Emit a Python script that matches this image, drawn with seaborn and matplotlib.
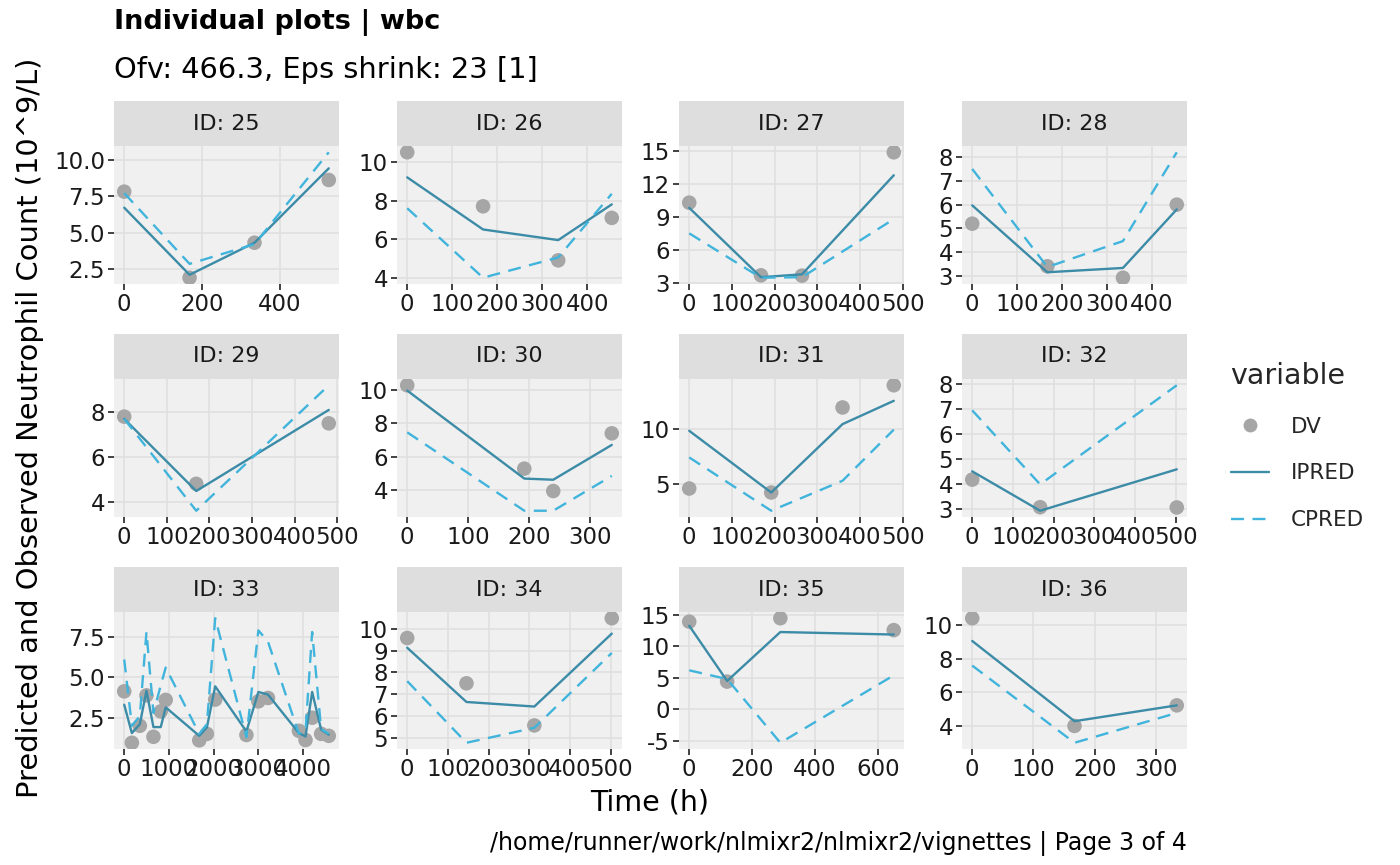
import numpy as np
import pandas as pd
import matplotlib
matplotlib.use("Agg")
import matplotlib.pyplot as plt
import seaborn as sns
from matplotlib.lines import Line2D

# ---------------- data ----------------
IDS = [25, 26, 27, 28, 29, 30, 31, 32, 33, 34, 35, 36]

TIME_25 = [0, 168, 335, 526]
DV_25 = [7.8, 1.9, 4.3, 8.6]
IPRED_25 = [6.7, 2.1, 4.3, 9.4]
CPRED_25 = [7.7, 2.85, 4.2, 10.5]

TIME_26 = [0, 168.5, 335.5, 454.5]
DV_26 = [10.5, 7.7, 4.9, 7.1]
IPRED_26 = [9.2, 6.5, 5.95, 7.8]
CPRED_26 = [7.6, 4.0, 5.05, 8.35]

TIME_27 = [0, 168, 264, 479]
DV_27 = [10.3, 3.67, 3.64, 14.9]
IPRED_27 = [9.83, 3.5, 3.76, 12.8]
CPRED_27 = [7.5, 3.45, 3.5, 8.8]

TIME_28 = [0, 167.5, 336, 456]
DV_28 = [5.2, 3.41, 2.93, 6.0]
IPRED_28 = [5.97, 3.16, 3.34, 5.8]
CPRED_28 = [7.5, 3.38, 4.47, 8.2]

TIME_29 = [0, 169, 480]
DV_29 = [7.8, 4.8, 7.5]
IPRED_29 = [7.7, 4.48, 8.1]
CPRED_29 = [7.7, 3.6, 9.2]

TIME_30 = [0, 192, 239.5, 335.5]
DV_30 = [10.3, 5.27, 3.92, 7.4]
IPRED_30 = [9.98, 4.67, 4.6, 6.7]
CPRED_30 = [7.46, 2.73, 2.73, 4.83]

TIME_31 = [0, 192, 359, 479]
DV_31 = [4.6, 4.24, 11.9, 13.9]
IPRED_31 = [9.8, 4.24, 10.4, 12.5]
CPRED_31 = [7.4, 2.6, 5.3, 9.9]

TIME_32 = [0, 167, 503]
DV_32 = [4.19, 3.09, 3.08]
IPRED_32 = [4.52, 2.95, 4.6]
CPRED_32 = [6.95, 4.0, 7.95]

TIME_33 = [0, 171, 349, 498, 654, 818, 929, 1680, 1851, 2037, 2736, 3004,
           3219, 3911, 4059, 4208, 4409, 4580]
DV_33 = [4.13, 0.95, 2.0, 3.88, 1.32, 2.89, 3.6, 1.1, 1.5, 3.62, 1.43, 3.51,
         3.72, 1.69, 1.12, 2.5, 1.5, 1.38]
IPRED_33 = [3.3, 1.55, 2.1, 4.17, 1.92, 1.92, 3.14, 1.38, 1.9, 4.44, 1.65, 4.09,
            3.93, 1.55, 1.34, 4.09, 1.76, 1.45]
CPRED_33 = [6.1, 2.0, 2.6, 7.8, 2.8, 4.5, 5.6, 1.5, 2.1, 8.65, 1.3, 7.9,
            7.2, 1.5, 1.7, 7.8, 1.8, 1.5]

TIME_34 = [0, 145.7, 312.6, 503]
DV_34 = [9.59, 7.5, 5.56, 10.5]
IPRED_34 = [9.14, 6.64, 6.43, 9.79]
CPRED_34 = [7.6, 4.76, 5.45, 8.9]

TIME_35 = [0, 120.6, 290, 651]
DV_35 = [13.95, 4.4, 14.5, 12.6]
IPRED_35 = [13.3, 4.5, 12.3, 11.9]
CPRED_35 = [6.2, 4.8, -5.35, 5.4]

TIME_36 = [0, 167, 334]
DV_36 = [10.39, 4.0, 5.22]
IPRED_36 = [9.04, 4.28, 5.22]
CPRED_36 = [7.58, 3.0, 4.77]

X_BREAKS = {25: [0, 200, 400], 26: [0, 100, 200, 300, 400],
            27: [0, 100, 200, 300, 400, 500], 28: [0, 100, 200, 300, 400],
            29: [0, 100, 200, 300, 400, 500], 30: [0, 100, 200, 300],
            31: [0, 100, 200, 300, 400, 500], 32: [0, 100, 200, 300, 400, 500],
            33: [0, 1000, 2000, 3000, 4000], 34: [0, 100, 200, 300, 400, 500],
            35: [0, 200, 400, 600], 36: [0, 100, 200, 300]}
Y_BREAKS = {25: [2.5, 5.0, 7.5, 10.0], 26: [4, 6, 8, 10], 27: [3, 6, 9, 12, 15],
            28: [3, 4, 5, 6, 7, 8], 29: [4, 6, 8], 30: [4, 6, 8, 10],
            31: [5, 10], 32: [3, 4, 5, 6, 7, 8], 33: [2.5, 5.0, 7.5],
            34: [5, 6, 7, 8, 9, 10], 35: [-5, 0, 5, 10, 15], 36: [4, 6, 8, 10]}
Y_FMT = {25: "{:.1f}", 33: "{:.1f}"}

TITLE = "Individual plots | wbc"
SUBTITLE = "Ofv: 466.3, Eps shrink: 23 [1]"
X_LABEL = "Time (h)"
Y_LABEL = "Predicted and Observed Neutrophil Count (10^9/L)"
CAPTION = "/home/runner/work/nlmixr2/nlmixr2/vignettes | Page 3 of 4"
LEGEND_TITLE = "variable"
SERIES = ["DV", "IPRED", "CPRED"]

# ---------------- build long table ----------------
rows = []
g = globals()
for i in IDS:
    for t, dv, ip, cp in zip(g[f"TIME_{i}"], g[f"DV_{i}"], g[f"IPRED_{i}"], g[f"CPRED_{i}"]):
        rows.append((i, t, "DV", dv))
        rows.append((i, t, "IPRED", ip))
        rows.append((i, t, "CPRED", cp))
df = pd.DataFrame(rows, columns=["ID", "time", "variable", "value"])

# ---------------- styling ----------------
sns.set_theme(style="white")
plt.rcParams["font.family"] = ["DejaVu Sans"]

COL_DV = "#a6a6a6"
COL_IPRED = "#3c8ba7"
COL_CPRED = "#41b4dc"
PANEL_BG = "#f0f0f0"
GRID = "#dfdfdf"
STRIP_BG = "#dedede"
TXT = "#1a1a1a"
DASH = (0, (5.5, 3.6))
LW = 1.7

W, H = 1400, 865
fig = plt.figure(figsize=(W / 100, H / 100), dpi=100)

col_left = [114, 397, 679, 962]
panel_w = 225
plot_top = [146, 379, 612]
plot_bot = [284, 517, 749]
strip_h = 45

TICK_FS = 16.5
STRIP_FS = 16

for k, pid in enumerate(IDS):
    r, c = divmod(k, 4)
    x0 = col_left[c]
    top, bot = plot_top[r], plot_bot[r]
    ax = fig.add_axes([x0 / W, 1 - bot / H, panel_w / W, (bot - top) / H])
    sub = df[df["ID"] == pid]
    ax.set_facecolor(PANEL_BG)
    sns.scatterplot(data=sub[sub["variable"] == "DV"], x="time", y="value", ax=ax,
                    color=COL_DV, s=110, linewidth=0, edgecolor="none", zorder=2,
                    legend=False)
    sns.lineplot(data=sub[sub["variable"] == "IPRED"], x="time", y="value", ax=ax,
                 color=COL_IPRED, linewidth=LW, estimator=None, zorder=3,
                 legend=False)
    sns.lineplot(data=sub[sub["variable"] == "CPRED"], x="time", y="value", ax=ax,
                 color=COL_CPRED, linewidth=LW, linestyle=DASH,
                 estimator=None, zorder=3, legend=False)
    ax.margins(x=0.05, y=0.05)
    ax.set_xticks(X_BREAKS[pid])
    ax.set_xticklabels([str(v) for v in X_BREAKS[pid]])
    fmt = Y_FMT.get(pid, "{:g}")
    ax.set_yticks(Y_BREAKS[pid])
    ax.set_yticklabels([fmt.format(v) for v in Y_BREAKS[pid]])
    ax.grid(True, color=GRID, linewidth=1.1, zorder=0)
    ax.set_axisbelow(True)
    for s in ax.spines.values():
        s.set_visible(False)
    ax.tick_params(axis="both", which="major", length=4, width=1.3, color="#333333",
                   labelsize=TICK_FS, labelcolor=TXT, pad=2.5,
                   bottom=True, left=True)
    ax.set_xlabel("")
    ax.set_ylabel("")
    # strip
    sax = fig.add_axes([x0 / W, 1 - top / H, panel_w / W, strip_h / H])
    sax.set_facecolor(STRIP_BG)
    sax.set_xticks([])
    sax.set_yticks([])
    for s in sax.spines.values():
        s.set_visible(False)
    sax.text(0.5, 0.5, f"ID: {pid}", ha="center", va="center", fontsize=STRIP_FS,
             color=TXT, transform=sax.transAxes)

fig.text(114 / W, 1 - 22 / H, TITLE, ha="left", va="center", fontsize=19.5,
         fontweight="bold", color="black")
fig.text(114 / W, 1 - 70 / H, SUBTITLE, ha="left", va="center", fontsize=20.8,
         color="black")
fig.text(650 / W, 1 - 803 / H, X_LABEL, ha="center", va="center", fontsize=20.5,
         color="black")
fig.text(30 / W, 1 - 428 / H, Y_LABEL, ha="center", va="center", fontsize=20.8,
         rotation=90, color="black")
fig.text(1187 / W, 1 - 843 / H, CAPTION, ha="right", va="center", fontsize=17,
         color="black")

handles = [
    Line2D([], [], marker="o", linestyle="none", color=COL_DV, markersize=10,
           markeredgewidth=0),
    Line2D([], [], color=COL_IPRED, linewidth=LW),
    Line2D([], [], color=COL_CPRED, linewidth=LW, linestyle=DASH),
]
leg = fig.legend(handles, SERIES, title=LEGEND_TITLE, loc="upper left",
                 bbox_to_anchor=(1222 / W, 1 - 353 / H), frameon=False,
                 fontsize=15.5, title_fontsize=20.5, handlelength=1.8,
                 labelspacing=1.25, handletextpad=1.0, borderaxespad=0)
leg._legend_box.align = "left"

fig.savefig("out.png", dpi=100)
